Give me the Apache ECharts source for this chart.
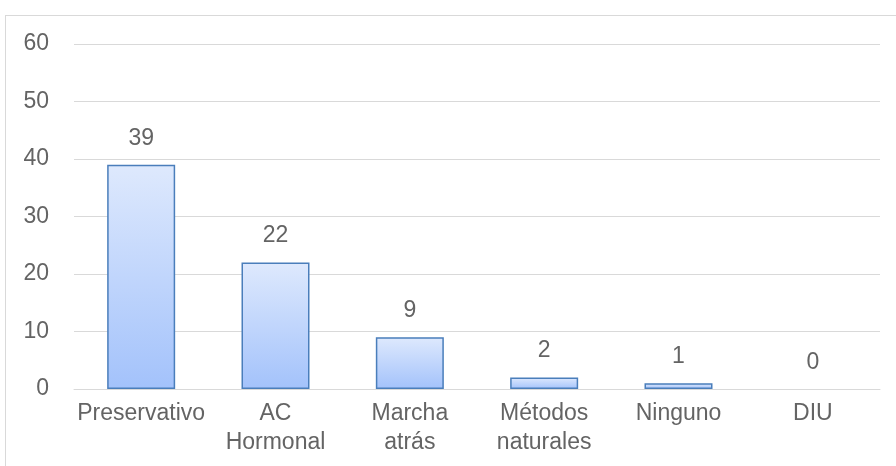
<!DOCTYPE html>
<html>
<head>
<meta charset="utf-8">
<script src="https://cdn.jsdelivr.net/npm/echarts@6/dist/echarts.min.js"></script>
<style>
html, body { margin: 0; padding: 0; background: #fff; }
#frame { position: absolute; left: 5px; top: 15px; width: 900px; height: 460px; border: 1px solid #d9d9d9; box-sizing: border-box; }
#chart { position: absolute; left: 0; top: 0; width: 896px; height: 466px; }
</style>
</head>
<body>
<div id="frame"></div>
<div id="chart"></div>
<script>
var categories = ['Preservativo', 'AC\nHormonal', 'Marcha\natrás', 'Métodos\nnaturales', 'Ninguno', 'DIU'];
var values = [39, 22, 9, 2, 1, 0];

var textColor = '#646464';

// una barra de valor 0 no se dibuja (sin borde)
var barData = values.map(function(v) {
	return v === 0 ? { value: v, itemStyle: { borderWidth: 0 } } : v;
});

var chart = echarts.init(document.getElementById('chart'));
chart.setOption({
	animation: false,
	grid: { left: 74, right: 16, top: 44, bottom: 77, containLabel: false },
	xAxis: {
		type: 'category',
		data: categories,
		axisLine: { lineStyle: { color: '#d9d9d9', width: 1 } },
		axisTick: { show: false },
		axisLabel: {
			color: textColor,
			fontSize: 23,
			fontFamily: 'Liberation Sans, Arial',
			lineHeight: 29,
			margin: 10,
			interval: 0
		}
	},
	yAxis: {
		type: 'value',
		min: 0,
		max: 60,
		interval: 10,
		axisLine: { show: false },
		axisTick: { show: false },
		splitLine: { lineStyle: { color: '#d9d9d9', width: 1 } },
		axisLabel: {
			color: textColor,
			fontSize: 23,
			fontFamily: 'Liberation Sans, Arial',
			margin: 25
		}
	},
	series: [{
		type: 'bar',
		data: barData,
		barWidth: 68,
		itemStyle: {
			color: new echarts.graphic.LinearGradient(0, 0, 0, 1, [
				{ offset: 0, color: '#dee9fd' },
				{ offset: 1, color: '#a3c2fb' }
			]),
			borderColor: '#4a7ebb',
			borderWidth: 1.5
		},
		label: {
			show: true,
			position: 'top',
			distance: 15,
			color: textColor,
			fontSize: 23,
			fontFamily: 'Liberation Sans, Arial'
		}
	}]
});
</script>
</body>
</html>
